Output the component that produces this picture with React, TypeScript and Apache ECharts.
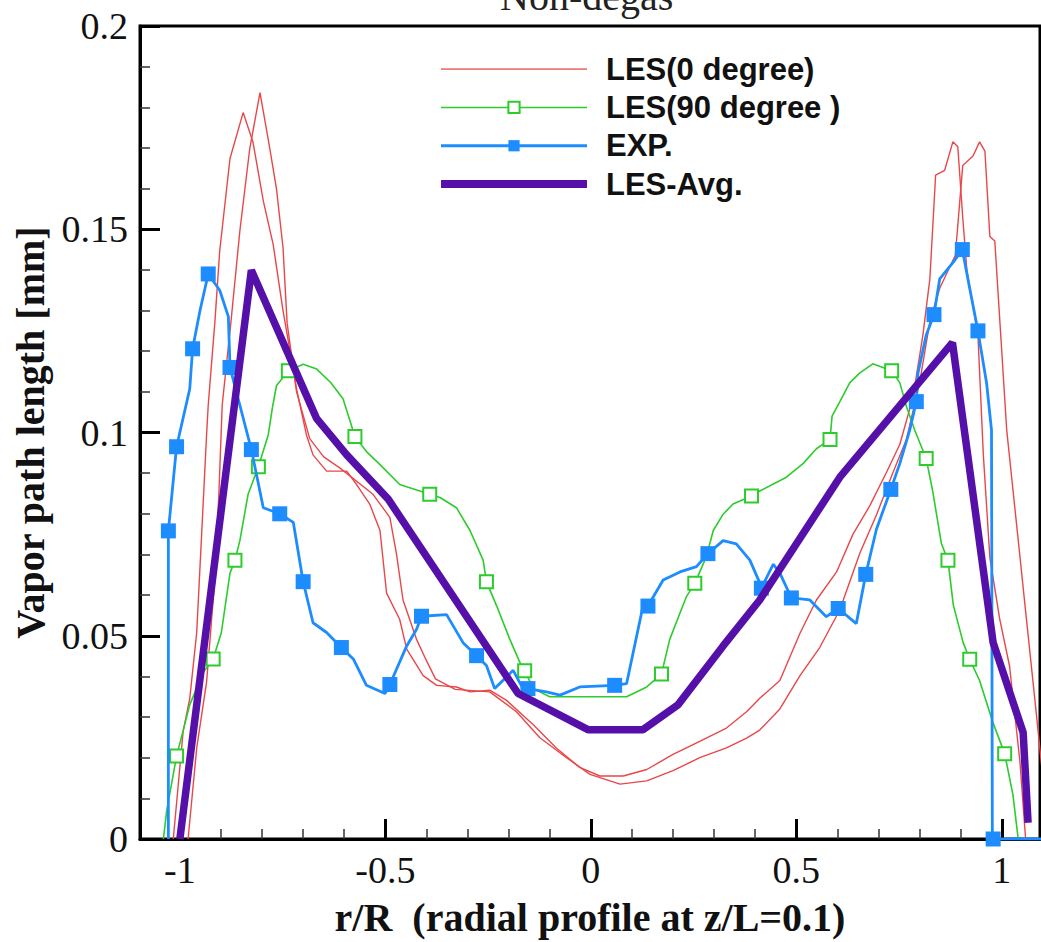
import React, { useEffect, useRef } from "react";
import * as echarts from "echarts";

// ---- data (r/R, vapor path length [mm]) ----
const lesZeroA: number[][] = [
  [-1.016, 0], [-0.992, 0.0265], [-0.976, 0.0345], [-0.959, 0.0508], [-0.947, 0.075], [-0.935, 0.0994],
  [-0.931, 0.1067], [-0.915, 0.1269], [-0.903, 0.1447], [-0.878, 0.1674], [-0.846, 0.1787], [-0.822, 0.1714],
  [-0.797, 0.157], [-0.773, 0.1463], [-0.749, 0.13], [-0.716, 0.1107], [-0.692, 0.0994], [-0.676, 0.0945],
  [-0.643, 0.0905], [-0.594, 0.0905], [-0.57, 0.0872], [-0.538, 0.0824], [-0.513, 0.0759], [-0.497, 0.0605],
  [-0.465, 0.054], [-0.448, 0.0467], [-0.408, 0.0402], [-0.375, 0.0378], [-0.327, 0.0374], [-0.294, 0.0362],
  [-0.246, 0.0366], [-0.205, 0.0341], [-0.14, 0.0281], [-0.084, 0.0224], [-0.027, 0.0176], [0.022, 0.0155],
  [0.079, 0.0155], [0.136, 0.0171], [0.2, 0.0208], [0.265, 0.024], [0.33, 0.0273], [0.379, 0.0313],
  [0.411, 0.0346], [0.46, 0.039], [0.509, 0.0506], [0.549, 0.0588], [0.598, 0.0657], [0.638, 0.075],
  [0.679, 0.082], [0.719, 0.0901], [0.752, 0.0971], [0.784, 0.1087], [0.808, 0.1239], [0.825, 0.1378],
  [0.839, 0.1633], [0.861, 0.1645], [0.881, 0.1715], [0.893, 0.1703], [0.905, 0.1529], [0.915, 0.14],
  [0.942, 0.1239], [0.955, 0.0947], [0.971, 0.0692], [0.995, 0.0541], [1.019, 0.0425], [1.044, 0.0192],
  [1.058, 0],
];
const lesZeroB: number[][] = [
  [-0.98, 0], [-0.959, 0.0224], [-0.935, 0.0386], [-0.915, 0.0637], [-0.905, 0.085], [-0.897, 0.1067],
  [-0.876, 0.1269], [-0.854, 0.1496], [-0.83, 0.1698], [-0.805, 0.1836], [-0.781, 0.1698], [-0.765, 0.16],
  [-0.749, 0.1455], [-0.739, 0.1269], [-0.716, 0.11], [-0.684, 0.0985], [-0.65, 0.094], [-0.611, 0.0913],
  [-0.53, 0.0848], [-0.489, 0.0791], [-0.473, 0.0702], [-0.457, 0.0588], [-0.424, 0.0491], [-0.402, 0.0443],
  [-0.378, 0.0394], [-0.33, 0.0368], [-0.246, 0.0362], [-0.181, 0.0313], [-0.124, 0.0249], [-0.059, 0.02],
  [-0.002, 0.0159], [0.071, 0.0135], [0.136, 0.0143], [0.2, 0.0168], [0.265, 0.02], [0.33, 0.0224],
  [0.379, 0.0248], [0.411, 0.0268], [0.46, 0.032], [0.509, 0.0402], [0.557, 0.0471], [0.606, 0.0564],
  [0.655, 0.0704], [0.695, 0.0797], [0.735, 0.0901], [0.768, 0.0983], [0.8, 0.1122], [0.825, 0.1273],
  [0.849, 0.1355], [0.887, 0.1436], [0.905, 0.1657], [0.93, 0.168], [0.946, 0.1715], [0.959, 0.1692],
  [0.971, 0.1482], [0.983, 0.1471], [1.012, 0.1006], [1.036, 0.0774], [1.06, 0.0541], [1.084, 0.0309],
  [1.1, 0.015],
];
// [x, y, marker?]
const lesNinety: number[][] = [
  [-1.04, 0, 0], [-1.032, 0.007, 0], [-1.008, 0.0204, 1], [-0.976, 0.033, 0], [-0.943, 0.041, 0],
  [-0.919, 0.0443, 1], [-0.899, 0.0508, 0], [-0.878, 0.0654, 0], [-0.866, 0.0686, 1], [-0.854, 0.0734, 0],
  [-0.834, 0.0848, 0], [-0.809, 0.0916, 1], [-0.785, 0.0994, 0], [-0.775, 0.106, 0], [-0.765, 0.1115, 0],
  [-0.736, 0.1152, 1], [-0.7, 0.1168, 0], [-0.667, 0.1156, 0], [-0.633, 0.1123, 0], [-0.603, 0.1083, 0],
  [-0.574, 0.099, 1], [-0.546, 0.0953, 0], [-0.513, 0.0921, 0], [-0.465, 0.0872, 0], [-0.392, 0.0848, 1],
  [-0.367, 0.084, 0], [-0.327, 0.0815, 0], [-0.294, 0.0759, 0], [-0.262, 0.0686, 0], [-0.254, 0.0633, 1],
  [-0.229, 0.0573, 0], [-0.197, 0.0491, 0], [-0.173, 0.0435, 0], [-0.161, 0.0414, 1], [-0.14, 0.037, 0],
  [-0.1, 0.035, 0], [-0.043, 0.035, 0], [0.038, 0.035, 0], [0.087, 0.035, 0], [0.136, 0.0374, 0],
  [0.172, 0.0406, 1], [0.192, 0.0491, 0], [0.217, 0.0556, 0], [0.233, 0.0597, 0], [0.253, 0.0629, 1],
  [0.281, 0.0694, 0], [0.298, 0.0759, 0], [0.322, 0.0799, 0], [0.346, 0.0824, 0], [0.391, 0.0844, 1],
  [0.411, 0.0856, 0], [0.476, 0.089, 0], [0.517, 0.0924, 0], [0.549, 0.096, 0], [0.582, 0.0983, 1],
  [0.587, 0.104, 0], [0.606, 0.1076, 0], [0.63, 0.1122, 0], [0.654, 0.1146, 0], [0.686, 0.1169, 0],
  [0.732, 0.1152, 1], [0.752, 0.1122, 0], [0.768, 0.1064, 0], [0.788, 0.1006, 0], [0.816, 0.0936, 1],
  [0.832, 0.0855, 0], [0.853, 0.0727, 0], [0.869, 0.0686, 1], [0.882, 0.0576, 0], [0.906, 0.0483, 0],
  [0.922, 0.0442, 1], [0.946, 0.039, 0], [0.979, 0.0285, 0], [1.007, 0.021, 1], [1.027, 0.011, 0],
  [1.04, 0, 0],
];
const expData: number[][] = [
  [-1.028, 0, 0], [-1.028, 0.0758, 1], [-1.008, 0.0965, 1], [-0.976, 0.1107, 0], [-0.969, 0.1206, 1],
  [-0.951, 0.13, 0], [-0.931, 0.139, 1], [-0.903, 0.135, 0], [-0.882, 0.1285, 0], [-0.878, 0.116, 1],
  [-0.854, 0.1067, 0], [-0.826, 0.0958, 1], [-0.797, 0.0815, 0], [-0.757, 0.08, 1], [-0.724, 0.0779, 0],
  [-0.7, 0.0633, 1], [-0.676, 0.0532, 0], [-0.643, 0.0508, 0], [-0.607, 0.0471, 1], [-0.578, 0.0443, 0],
  [-0.546, 0.0378, 0], [-0.501, 0.0358, 0], [-0.489, 0.038, 1], [-0.448, 0.0475, 0], [-0.424, 0.0516, 0],
  [-0.412, 0.0548, 1], [-0.351, 0.0552, 0], [-0.311, 0.0483, 0], [-0.278, 0.0451, 1], [-0.254, 0.0427, 0],
  [-0.234, 0.037, 0], [-0.189, 0.0415, 0], [-0.165, 0.037, 0], [-0.153, 0.037, 1], [-0.108, 0.0362, 0],
  [-0.075, 0.0354, 0], [-0.027, 0.0374, 0], [0.058, 0.0378, 1], [0.087, 0.0382, 0], [0.127, 0.0573, 0],
  [0.139, 0.0573, 1], [0.176, 0.0637, 0], [0.217, 0.0657, 0], [0.257, 0.067, 0], [0.285, 0.0702, 1],
  [0.322, 0.0734, 0], [0.354, 0.0726, 0], [0.387, 0.0686, 0], [0.411, 0.063, 0], [0.415, 0.0617, 1],
  [0.444, 0.0676, 0], [0.46, 0.0654, 0], [0.488, 0.0593, 1], [0.533, 0.0588, 0], [0.573, 0.0547, 0],
  [0.602, 0.0567, 1], [0.646, 0.053, 0], [0.669, 0.0651, 1], [0.695, 0.0762, 0], [0.73, 0.086, 1],
  [0.752, 0.0924, 0], [0.776, 0.1006, 0], [0.792, 0.1076, 1], [0.796, 0.1146, 0], [0.816, 0.1239, 0],
  [0.835, 0.129, 1], [0.849, 0.1378, 0], [0.882, 0.1419, 0], [0.904, 0.145, 1], [0.922, 0.1354, 0],
  [0.942, 0.125, 1], [0.963, 0.1122, 0], [0.975, 0.1006, 0], [0.977, 0.002, 0], [0.979, 0, 1],
  [1.1, 0, 0],
];
const lesAvg: number[][] = [
  [-1.0, 0], [-0.826, 0.1399], [-0.667, 0.1034], [-0.594, 0.0945], [-0.493, 0.0836], [-0.177, 0.0358],
  [-0.007, 0.0269], [0.127, 0.0269], [0.212, 0.033], [0.322, 0.0475], [0.411, 0.0588], [0.606, 0.089],
  [0.88, 0.1221], [0.979, 0.0483], [1.052, 0.0262], [1.064, 0.004],
];

const xMajorTicks = [-1, -0.5, 0, 0.5, 1];
const xMinorTicks = [-0.9, -0.8, -0.7, -0.6, -0.4, -0.3, -0.2, -0.1, 0.1, 0.2, 0.3, 0.4, 0.6, 0.7, 0.8, 0.9];
const legendNames = ["LES(0 degree)", "LES(90 degree )", "EXP.", "LES-Avg."];
const titleText = "Non-degas";
const xAxisName = "r/R  (radial profile at z/L=0.1)";
const yAxisName = "Vapor path length [mm]";

const RED = "#e8474a";
const GREEN = "#2ccc2c";
const BLUE = "#1c8cff";
const PURPLE = "#5510aa";
const SERIF = "'Liberation Serif', 'Times New Roman', serif";
const SANS = "'Liberation Sans', Arial, sans-serif";

export default function App() {
  const ref = useRef<HTMLDivElement>(null);
  useEffect(() => {
    if (!ref.current) return;
    const chart = echarts.init(ref.current, null, { renderer: "svg" });
    const xMin = -1.097;
    const xMax = 1.093;
    const option: any = {
      animation: false,
      backgroundColor: "#fff",
      grid: {
        left: 140, top: 26, width: 900, height: 823,
        show: true, borderColor: "#000", borderWidth: 3, backgroundColor: "transparent",
      },
      graphic: [
        {
          type: "text", left: 500, top: -24, silent: true,
          style: { text: titleText, font: `40px ${SERIF}`, fill: "#222" },
        },
      ],
      legend: {
        data: [
          { name: legendNames[0], itemStyle: { opacity: 0 }, lineStyle: { width: 1.6, color: "#ee7777" } },
          { name: legendNames[1], lineStyle: { width: 1.6 } },
          { name: legendNames[2], lineStyle: { width: 3 } },
          { name: legendNames[3], itemStyle: { opacity: 0 }, lineStyle: { width: 8 } },
        ],
        orient: "vertical",
        left: 432, top: 45,
        itemWidth: 146, itemHeight: 14, itemGap: 0,
        textStyle: { fontFamily: SANS, fontWeight: "bold", fontSize: 31, color: "#111", lineHeight: 38.3, padding: [0, 0, 0, 14] },
        selectedMode: false,
      },
      xAxis: [
        {
          type: "value", min: xMin, max: xMax, position: "bottom",
          axisLine: { onZero: false, lineStyle: { color: "#000", width: 3 } },
          axisTick: { inside: true, length: 20, customValues: xMajorTicks, lineStyle: { color: "#000", width: 3 } },
          axisLabel: {
            customValues: xMajorTicks, margin: 12, color: "#111", fontFamily: SERIF, fontSize: 38,
            formatter: (v: number) => String(v),
          },
          splitLine: { show: false },
          name: xAxisName, nameLocation: "middle", nameGap: 58,
          nameTextStyle: { fontFamily: SERIF, fontWeight: "bold", fontSize: 40, color: "#111" },
        },
        {
          type: "value", min: xMin, max: xMax, position: "bottom",
          axisLine: { show: false, onZero: false },
          axisTick: { inside: true, length: 10, customValues: xMinorTicks, lineStyle: { color: "#333", width: 1.5 } },
          axisLabel: { show: false },
          splitLine: { show: false },
        },
      ],
      yAxis: {
        type: "value", min: 0, max: 0.2, interval: 0.05,
        axisLine: { show: true, onZero: false, lineStyle: { color: "#000", width: 3 } },
        axisTick: { show: true, inside: true, length: 20, lineStyle: { color: "#000", width: 3 } },
        minorTick: { show: true, splitNumber: 5, length: 10, lineStyle: { color: "#333", width: 1.5 } },
        axisLabel: { margin: 12, color: "#111", fontFamily: SERIF, fontSize: 38, formatter: (v: number) => String(v) },
        splitLine: { show: false },
        minorSplitLine: { show: false },
        name: yAxisName, nameLocation: "middle", nameGap: 84,
        nameTextStyle: { fontFamily: SERIF, fontWeight: "bold", fontSize: 40, color: "#111" },
      },
      series: [
        {
          name: legendNames[0], type: "line", xAxisIndex: 0, data: lesZeroA, symbol: "none",
          lineStyle: { color: RED, width: 1.4 }, itemStyle: { color: RED }, z: 2,
        },
        {
          name: legendNames[0], type: "line", xAxisIndex: 0, data: lesZeroB, symbol: "none",
          lineStyle: { color: RED, width: 1.4 }, itemStyle: { color: RED }, z: 2,
        },
        {
          name: legendNames[1], type: "line", xAxisIndex: 0,
          data: lesNinety.map((p) => ({ value: [p[0], p[1]], symbol: p[2] ? "emptyRect" : "none" })),
          symbol: "emptyRect", symbolSize: 13, showAllSymbol: true,
          lineStyle: { color: GREEN, width: 1.6 }, itemStyle: { color: GREEN, borderColor: GREEN, borderWidth: 1.6 }, z: 3,
        },
        {
          name: legendNames[2], type: "line", xAxisIndex: 0,
          data: expData.map((p) => ({ value: [p[0], p[1]], symbol: p[2] ? "rect" : "none" })),
          symbol: "rect", symbolSize: 15, showAllSymbol: true,
          lineStyle: { color: BLUE, width: 2.8 }, itemStyle: { color: BLUE }, z: 4,
        },
        {
          name: legendNames[3], type: "line", xAxisIndex: 0, data: lesAvg, symbol: "none",
          lineStyle: { color: PURPLE, width: 7.5 }, itemStyle: { color: PURPLE }, z: 5,
        },
      ],
    };
    chart.setOption(option);
    return () => chart.dispose();
  }, []);
  return (
    <div
      ref={ref}
      style={{ position: "fixed", left: 0, top: 0, width: 1041, height: 942, background: "#fff" }}
    />
  );
}
